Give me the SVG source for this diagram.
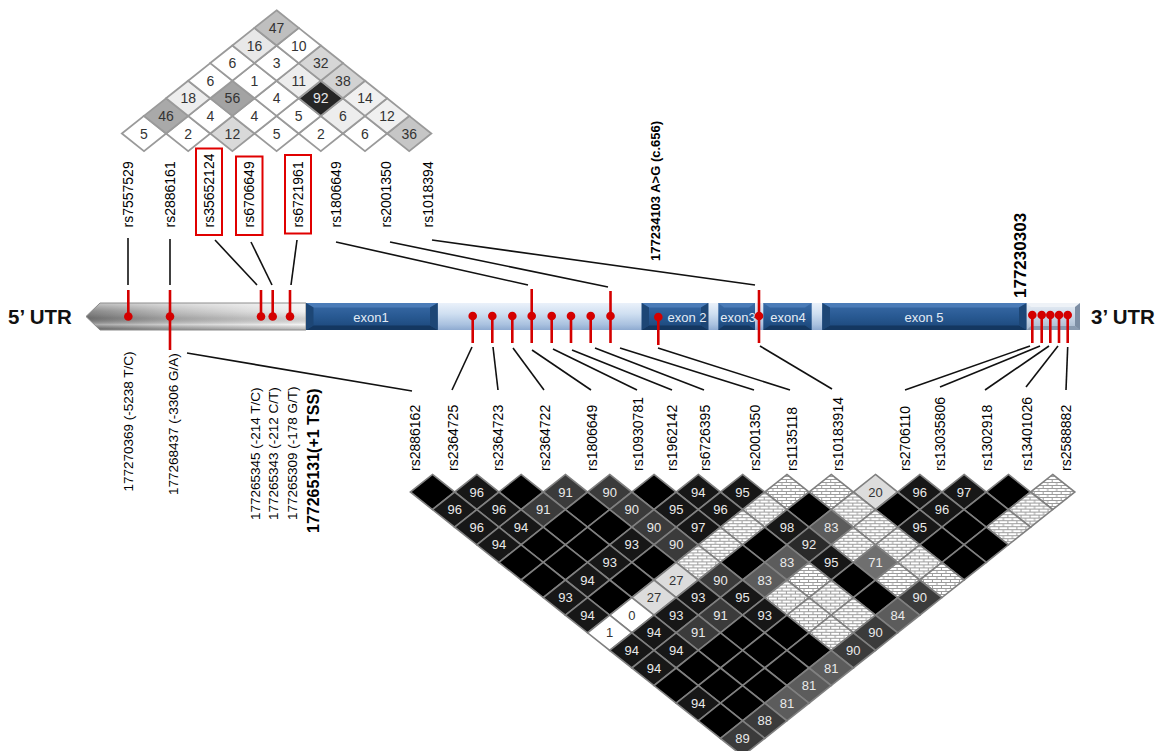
<svg xmlns="http://www.w3.org/2000/svg" xmlns:xlink="http://www.w3.org/1999/xlink" width="1155" height="751" viewBox="0 0 1155 751">
<defs>
<style>
text{font-family:"Liberation Sans",Arial,sans-serif}
.c{stroke:#808080;stroke-width:1.6}
.ct{stroke:#9a9a9a;stroke-width:1.8}
.b{fill:#000}.n1{fill:#171717}.n2{fill:#2a2a2a}.n3{fill:#3b3b3b}.n4{fill:#5c5c5c}.n5{fill:#6f6f6f}.lt{fill:#dcdcdc}.w{fill:#fff}.h{fill:url(#brick)}
.num{font-size:13px;text-anchor:middle}
.tw{fill:#eaeaea}.tk{fill:#333}
.lab{font-size:14px;fill:#000;dominant-baseline:central}
.blk{stroke:#111;stroke-width:1.6;fill:none}
.red{stroke:#d40000;stroke-width:2.6;fill:none}
.dot{fill:#d40000}
.box{fill:none;stroke:#e00000;stroke-width:2}
.ex{font-size:13px;fill:#e3ebf5;text-anchor:middle}
.utr{font-size:20.5px;font-weight:bold;fill:#111}
</style>
<path id="dm" d="M0,-17.6L22.15,0L0,17.6L-22.15,0Z"/>
<pattern id="brick" patternUnits="userSpaceOnUse" width="9" height="6">
<rect width="9" height="6" fill="#9c9c9c"/>
<rect x="0" y="0" width="8" height="2" fill="#fff"/>
<rect x="-4.5" y="3" width="8" height="2" fill="#fff"/>
<rect x="4.5" y="3" width="8" height="2" fill="#fff"/>
</pattern>
<linearGradient id="gUtr5" x1="0" y1="0" x2="1" y2="0">
<stop offset="0" stop-color="#7a7a7a"/><stop offset="0.4" stop-color="#b8b8b8"/><stop offset="1" stop-color="#f0f0f0"/>
</linearGradient>
<linearGradient id="gShade" x1="0" y1="0" x2="0" y2="1">
<stop offset="0" stop-color="#fff" stop-opacity="0.55"/><stop offset="0.3" stop-color="#fff" stop-opacity="0.1"/><stop offset="0.55" stop-color="#000" stop-opacity="0.12"/><stop offset="0.8" stop-color="#fff" stop-opacity="0.35"/><stop offset="1" stop-color="#000" stop-opacity="0.25"/>
</linearGradient>
<linearGradient id="gIntron" x1="0" y1="0" x2="0" y2="1">
<stop offset="0" stop-color="#eaf1fa"/><stop offset="0.4" stop-color="#cfdff1"/><stop offset="0.8" stop-color="#a9c1df"/><stop offset="1" stop-color="#8eaad0"/>
</linearGradient>
<linearGradient id="gExon" x1="0" y1="0" x2="0" y2="1">
<stop offset="0" stop-color="#3a6ba7"/><stop offset="0.5" stop-color="#285992"/><stop offset="1" stop-color="#1b4678"/>
</linearGradient>
<linearGradient id="gUtr3" x1="0" y1="0" x2="0" y2="1">
<stop offset="0" stop-color="#e8eef5"/><stop offset="0.5" stop-color="#c9d6e6"/><stop offset="1" stop-color="#a8b9cd"/>
</linearGradient>
</defs>
<rect width="1155" height="751" fill="#fff"/>

<!-- Top LD triangle -->
<g id="ld-top">
<g class="ct">
<use xlink:href="#dm" x="144" y="133.5" class="w"/>
<use xlink:href="#dm" x="188.2" y="133.5" class="w"/>
<use xlink:href="#dm" x="232.4" y="133.5" fill="#d9d9d9"/>
<use xlink:href="#dm" x="276.6" y="133.5" class="w"/>
<use xlink:href="#dm" x="320.8" y="133.5" class="w"/>
<use xlink:href="#dm" x="365" y="133.5" class="w"/>
<use xlink:href="#dm" x="409.2" y="133.5" fill="#c6c6c6"/>
<use xlink:href="#dm" x="166.1" y="115.9" fill="#a9a9a9"/>
<use xlink:href="#dm" x="210.3" y="115.9" class="w"/>
<use xlink:href="#dm" x="254.5" y="115.9" class="w"/>
<use xlink:href="#dm" x="298.7" y="115.9" class="w"/>
<use xlink:href="#dm" x="342.9" y="115.9" fill="#ededed"/>
<use xlink:href="#dm" x="387.1" y="115.9" fill="#f0f0f0"/>
<use xlink:href="#dm" x="188.2" y="98.3" fill="#ededed"/>
<use xlink:href="#dm" x="232.4" y="98.3" fill="#a3a3a3"/>
<use xlink:href="#dm" x="276.6" y="98.3" class="w"/>
<use xlink:href="#dm" x="320.8" y="98.3" fill="#262626"/>
<use xlink:href="#dm" x="365" y="98.3" fill="#f0f0f0"/>
<use xlink:href="#dm" x="210.3" y="80.7" class="w"/>
<use xlink:href="#dm" x="254.5" y="80.7" class="w"/>
<use xlink:href="#dm" x="298.7" y="80.7" fill="#ededed"/>
<use xlink:href="#dm" x="342.9" y="80.7" fill="#d2d2d2"/>
<use xlink:href="#dm" x="232.4" y="63.1" class="w"/>
<use xlink:href="#dm" x="276.6" y="63.1" class="w"/>
<use xlink:href="#dm" x="320.8" y="63.1" fill="#d6d6d6"/>
<use xlink:href="#dm" x="254.5" y="45.5" fill="#e8e8e8"/>
<use xlink:href="#dm" x="298.7" y="45.5" class="w"/>
<use xlink:href="#dm" x="276.6" y="27.9" fill="#bfbfbf"/>
</g>
<g class="num tk" style="font-size:14px">
<text x="144" y="138.5">5</text><text x="188.2" y="138.5">2</text><text x="232.4" y="138.5">12</text><text x="276.6" y="138.5">5</text><text x="320.8" y="138.5">2</text><text x="365" y="138.5">6</text><text x="409.2" y="138.5">36</text>
<text x="166.1" y="120.9">46</text><text x="210.3" y="120.9">4</text><text x="254.5" y="120.9">4</text><text x="298.7" y="120.9">5</text><text x="342.9" y="120.9">6</text><text x="387.1" y="120.9">12</text>
<text x="188.2" y="103.3">18</text><text x="232.4" y="103.3">56</text><text x="276.6" y="103.3">4</text><text x="320.8" y="103.3" class="tw">92</text><text x="365" y="103.3">14</text>
<text x="210.3" y="85.7">6</text><text x="254.5" y="85.7">1</text><text x="298.7" y="85.7">11</text><text x="342.9" y="85.7">38</text>
<text x="232.4" y="68.1">6</text><text x="276.6" y="68.1">3</text><text x="320.8" y="68.1">32</text>
<text x="254.5" y="50.5">16</text><text x="298.7" y="50.5">10</text>
<text x="276.6" y="32.9">47</text>
</g>
</g>

<!-- Top SNP labels -->
<g id="labels-top" class="lab">
<text transform="translate(128,227.5) rotate(-90)">rs7557529</text>
<text transform="translate(170,227.5) rotate(-90)">rs2886161</text>
<text transform="translate(209,227.5) rotate(-90)">rs35652124</text>
<text transform="translate(249,227.5) rotate(-90)">rs6706649</text>
<text transform="translate(298,227.5) rotate(-90)">rs6721961</text>
<text transform="translate(336,227.5) rotate(-90)">rs1806649</text>
<text transform="translate(386,227.5) rotate(-90)">rs2001350</text>
<text transform="translate(428,227.5) rotate(-90)">rs1018394</text>
<text transform="translate(655,261) rotate(-90)" style="font-size:13px;font-weight:bold">177234103 A&gt;G (c.656)</text>
<text transform="translate(1020,298) rotate(-90)" style="font-size:17px;font-weight:bold">177230303</text>
</g>
<g id="highlight-boxes">
<rect class="box" x="196" y="148.5" width="26" height="86.5"/>
<rect class="box" x="236" y="156.5" width="26.5" height="78.5"/>
<rect class="box" x="285" y="155" width="26" height="78.5"/>
</g>

<!-- Gene structure -->
<g id="gene">
<rect x="437" y="303" width="206" height="27" fill="url(#gIntron)"/>
<rect x="707" y="303" width="13" height="27" fill="url(#gIntron)"/>
<rect x="754" y="303" width="11" height="27" fill="url(#gIntron)"/>
<rect x="810" y="303" width="14" height="27" fill="url(#gIntron)"/>
<g id="utr5">
<polygon points="86,316.5 100,303 306,303 306,330 100,330" fill="url(#gUtr5)"/>
<polygon points="86,316.5 100,303 306,303 306,330 100,330" fill="url(#gShade)"/>
<polygon points="86,316.5 100,303 306,303 306,330 100,330" fill="none" stroke="#8c8c8c" stroke-width="1"/>
</g>
<g id="exon1">
<rect x="306" y="303" width="131.7" height="27" fill="url(#gExon)"/>
<polygon points="306,303 437.7,303 430,307.5 313.5,307.5" fill="#4b7cb8"/>
<polygon points="306,330 437.7,330 430,325.5 313.5,325.5" fill="#143760"/>
<polygon points="306,303 313.5,307.5 313.5,325.5 306,330" fill="#1d4675"/>
<polygon points="437.7,303 430,307.5 430,325.5 437.7,330" fill="#1d4675"/>
<text class="ex" x="371" y="321.5">exon1</text>
</g>
<g id="exon2">
<rect x="641.7" y="303" width="66.6" height="27" fill="url(#gExon)"/>
<polygon points="641.7,303 708.3,303 701,307.5 649,307.5" fill="#4b7cb8"/>
<polygon points="641.7,330 708.3,330 701,325.5 649,325.5" fill="#143760"/>
<polygon points="641.7,303 649,307.5 649,325.5 641.7,330" fill="#1d4675"/>
<polygon points="708.3,303 701,307.5 701,325.5 708.3,330" fill="#1d4675"/>
<text class="ex" x="687" y="321.5">exon 2</text>
</g>
<g id="exon3">
<rect x="718.3" y="303" width="36.7" height="27" fill="url(#gExon)"/>
<polygon points="718.3,303 755,303 749,307.5 724,307.5" fill="#4b7cb8"/>
<polygon points="718.3,330 755,330 749,325.5 724,325.5" fill="#143760"/>
<text class="ex" x="738" y="321.5">exon3</text>
</g>
<g id="exon4">
<rect x="763.3" y="303" width="48.4" height="27" fill="url(#gExon)"/>
<polygon points="763.3,303 811.7,303 805,307.5 770,307.5" fill="#4b7cb8"/>
<polygon points="763.3,330 811.7,330 805,325.5 770,325.5" fill="#143760"/>
<text class="ex" x="788" y="321.5">exon4</text>
</g>
<g id="exon5">
<rect x="822.3" y="303" width="204.4" height="27" fill="url(#gExon)"/>
<polygon points="822.3,303 1026.7,303 1019,307.5 830,307.5" fill="#4b7cb8"/>
<polygon points="822.3,330 1026.7,330 1019,325.5 830,325.5" fill="#143760"/>
<polygon points="822.3,303 830,307.5 830,325.5 822.3,330" fill="#1d4675"/>
<polygon points="1026.7,303 1019,307.5 1019,325.5 1026.7,330" fill="#1d4675"/>
<text class="ex" x="924" y="321.5">exon 5</text>
</g>
<g id="utr3">
<rect x="1026.7" y="303" width="53.3" height="27" fill="url(#gUtr3)"/>
<polygon points="1026.7,303 1080,303 1075,307 1031,307" fill="#eef2f7"/>
<polygon points="1026.7,330 1080,330 1075,326 1031,326" fill="#8a9bb0"/>
<polygon points="1080,303 1075,307 1075,326 1080,330" fill="#7d8ea4"/>
</g>
<text class="utr" x="8" y="324">5’ UTR</text>
<text class="utr" x="1091" y="324">3’ UTR</text>
</g>

<!-- Connectors -->
<g id="connectors">
<g class="blk">
<path d="M128,238V285"/>
<path d="M170,239V285"/>
<path d="M215,240L257,285"/>
<path d="M251,242L272,285"/>
<path d="M297,240L291,285"/>
<path d="M336,242L528,285"/>
<path d="M390,242L608,287"/>
<path d="M432,240L755,285"/>
<path d="M187,353L412,391"/>
<path d="M472,347L452,390"/>
<path d="M493,347L498,390"/>
<path d="M513,348L544,390"/>
<path d="M532,350L591,390"/>
<path d="M553,349L637,390"/>
<path d="M572,350L672,390"/>
<path d="M595,348L704,390"/>
<path d="M620,348L754,390"/>
<path d="M658,348L790,390"/>
<path d="M760,346L832,389"/>
<path d="M1030,346L905,390"/>
<path d="M1040,346L940,387"/>
<path d="M1049,346L985,390"/>
<path d="M1058,346L1026,387"/>
<path d="M1067.7,347L1066,390"/>
</g>
<g class="red">
<path d="M128.3,290V316.5"/>
<path d="M170,290V350"/>
<path d="M261,290V316.5"/>
<path d="M272.7,290V316.5"/>
<path d="M290,290V316.5"/>
<path d="M472.7,316V343"/>
<path d="M492.3,316V343"/>
<path d="M512.3,316V343"/>
<path d="M531.7,289V343"/>
<path d="M551.7,316V343"/>
<path d="M571,316V343"/>
<path d="M590.7,316V343"/>
<path d="M610.5,291V343"/>
<path d="M658.3,317V345"/>
<path d="M759,290V343"/>
<path d="M1032.3,315V343"/>
<path d="M1041.7,315V343"/>
<path d="M1050.3,315V343"/>
<path d="M1059,315V343"/>
<path d="M1067.7,315V343"/>
</g>
<g class="dot">
<circle cx="128.3" cy="316.5" r="4.3"/><circle cx="170" cy="316.5" r="4.3"/><circle cx="261" cy="316.5" r="4.3"/><circle cx="272.7" cy="316.5" r="4.3"/><circle cx="290" cy="316.5" r="4.3"/>
<circle cx="472.7" cy="316" r="4.3"/><circle cx="492.3" cy="316" r="4.3"/><circle cx="512.3" cy="316" r="4.3"/><circle cx="531.7" cy="316" r="4.3"/><circle cx="551.7" cy="316" r="4.3"/><circle cx="571" cy="316" r="4.3"/><circle cx="590.7" cy="316" r="4.3"/><circle cx="610.5" cy="316" r="4.3"/>
<circle cx="658.3" cy="317" r="4.3"/><circle cx="759" cy="316" r="4.3"/>
<circle cx="1032.3" cy="315" r="4.3"/><circle cx="1041.7" cy="315" r="4.3"/><circle cx="1050.3" cy="315" r="4.3"/><circle cx="1059" cy="315" r="4.3"/><circle cx="1067.7" cy="315" r="4.3"/>
</g>
</g>

<!-- Bottom-left position labels -->
<g id="labels-position" class="lab" style="font-size:13.5px">
<text transform="translate(128,491.5) rotate(-90)">177270369 (-5238 T/C)</text>
<text transform="translate(173,495) rotate(-90)">177268437 (-3306 G/A)</text>
<text transform="translate(255,520) rotate(-90)">177265345 (-214 T/C)</text>
<text transform="translate(273.5,520) rotate(-90)">177265343 (-212 C/T)</text>
<text transform="translate(292.5,520) rotate(-90)">177265309 (-178 G/T)</text>
<text transform="translate(313.5,533) rotate(-90)" style="font-size:16px;font-weight:bold">177265131(+1 TSS)</text>
</g>

<!-- Bottom SNP labels -->
<g id="labels-bottom" class="lab">
<text transform="translate(415,471) rotate(-90)">rs2886162</text>
<text transform="translate(453.3,471) rotate(-90)">rs2364725</text>
<text transform="translate(498.3,471) rotate(-90)">rs2364723</text>
<text transform="translate(545,471) rotate(-90)">rs2364722</text>
<text transform="translate(591.7,471) rotate(-90)">rs1806649</text>
<text transform="translate(638.3,471) rotate(-90)">rs10930781</text>
<text transform="translate(671.7,471) rotate(-90)">rs1962142</text>
<text transform="translate(705,471) rotate(-90)">rs6726395</text>
<text transform="translate(755,471) rotate(-90)">rs2001350</text>
<text transform="translate(791.7,471) rotate(-90)">rs1135118</text>
<text transform="translate(838.3,471) rotate(-90)">rs10183914</text>
<text transform="translate(905,471) rotate(-90)">rs2706110</text>
<text transform="translate(940,471) rotate(-90)">rs13035806</text>
<text transform="translate(986.7,471) rotate(-90)">rs1302918</text>
<text transform="translate(1027.3,471) rotate(-90)">rs13401026</text>
<text transform="translate(1066,471) rotate(-90)">rs2588882</text>
</g>

<!-- Bottom LD triangle -->
<g id="ld-bottom">
<g class="c">
<use xlink:href="#dm" x="432.5" y="492" class="b"/><use xlink:href="#dm" x="476.8" y="492" class="n1"/><use xlink:href="#dm" x="521.1" y="492" class="b"/><use xlink:href="#dm" x="565.4" y="492" class="n3"/><use xlink:href="#dm" x="609.7" y="492" class="n3"/><use xlink:href="#dm" x="654" y="492" class="b"/><use xlink:href="#dm" x="698.3" y="492" class="n1"/><use xlink:href="#dm" x="742.6" y="492" class="n1"/><use xlink:href="#dm" x="786.9" y="492" class="h"/><use xlink:href="#dm" x="831.2" y="492" class="h"/><use xlink:href="#dm" x="875.5" y="492" class="lt"/><use xlink:href="#dm" x="919.8" y="492" class="n1"/><use xlink:href="#dm" x="964.1" y="492" class="n1"/><use xlink:href="#dm" x="1008.4" y="492" class="b"/><use xlink:href="#dm" x="1052.7" y="492" class="h"/>
<use xlink:href="#dm" x="454.65" y="509.6" class="n1"/><use xlink:href="#dm" x="498.95" y="509.6" class="n1"/><use xlink:href="#dm" x="543.25" y="509.6" class="n3"/><use xlink:href="#dm" x="587.55" y="509.6" class="b"/><use xlink:href="#dm" x="631.85" y="509.6" class="n3"/><use xlink:href="#dm" x="676.15" y="509.6" class="n1"/><use xlink:href="#dm" x="720.45" y="509.6" class="n1"/><use xlink:href="#dm" x="764.75" y="509.6" class="h"/><use xlink:href="#dm" x="809.05" y="509.6" class="b"/><use xlink:href="#dm" x="853.35" y="509.6" class="h"/><use xlink:href="#dm" x="897.65" y="509.6" class="b"/><use xlink:href="#dm" x="941.95" y="509.6" class="n1"/><use xlink:href="#dm" x="986.25" y="509.6" class="b"/><use xlink:href="#dm" x="1030.55" y="509.6" class="h"/>
<use xlink:href="#dm" x="476.8" y="527.2" class="n1"/><use xlink:href="#dm" x="521.1" y="527.2" class="n1"/><use xlink:href="#dm" x="565.4" y="527.2" class="b"/><use xlink:href="#dm" x="609.7" y="527.2" class="b"/><use xlink:href="#dm" x="654" y="527.2" class="n3"/><use xlink:href="#dm" x="698.3" y="527.2" class="n1"/><use xlink:href="#dm" x="742.6" y="527.2" class="h"/><use xlink:href="#dm" x="786.9" y="527.2" class="n1"/><use xlink:href="#dm" x="831.2" y="527.2" class="n4"/><use xlink:href="#dm" x="875.5" y="527.2" class="h"/><use xlink:href="#dm" x="919.8" y="527.2" class="n1"/><use xlink:href="#dm" x="964.1" y="527.2" class="b"/><use xlink:href="#dm" x="1008.4" y="527.2" class="h"/>
<use xlink:href="#dm" x="498.95" y="544.8" class="n1"/><use xlink:href="#dm" x="543.25" y="544.8" class="b"/><use xlink:href="#dm" x="587.55" y="544.8" class="b"/><use xlink:href="#dm" x="631.85" y="544.8" class="n1"/><use xlink:href="#dm" x="676.15" y="544.8" class="n3"/><use xlink:href="#dm" x="720.45" y="544.8" class="h"/><use xlink:href="#dm" x="764.75" y="544.8" class="b"/><use xlink:href="#dm" x="809.05" y="544.8" class="n2"/><use xlink:href="#dm" x="853.35" y="544.8" class="h"/><use xlink:href="#dm" x="897.65" y="544.8" class="h"/><use xlink:href="#dm" x="941.95" y="544.8" class="b"/><use xlink:href="#dm" x="986.25" y="544.8" class="b"/>
<use xlink:href="#dm" x="521.1" y="562.4" class="b"/><use xlink:href="#dm" x="565.4" y="562.4" class="b"/><use xlink:href="#dm" x="609.7" y="562.4" class="n1"/><use xlink:href="#dm" x="654" y="562.4" class="b"/><use xlink:href="#dm" x="698.3" y="562.4" class="h"/><use xlink:href="#dm" x="742.6" y="562.4" class="b"/><use xlink:href="#dm" x="786.9" y="562.4" class="n4"/><use xlink:href="#dm" x="831.2" y="562.4" class="n1"/><use xlink:href="#dm" x="875.5" y="562.4" class="n5"/><use xlink:href="#dm" x="919.8" y="562.4" class="h"/><use xlink:href="#dm" x="964.1" y="562.4" class="b"/>
<use xlink:href="#dm" x="543.25" y="580" class="b"/><use xlink:href="#dm" x="587.55" y="580" class="n1"/><use xlink:href="#dm" x="631.85" y="580" class="b"/><use xlink:href="#dm" x="676.15" y="580" class="lt"/><use xlink:href="#dm" x="720.45" y="580" class="n3"/><use xlink:href="#dm" x="764.75" y="580" class="n4"/><use xlink:href="#dm" x="809.05" y="580" class="h"/><use xlink:href="#dm" x="853.35" y="580" class="b"/><use xlink:href="#dm" x="897.65" y="580" class="h"/><use xlink:href="#dm" x="941.95" y="580" class="h"/>
<use xlink:href="#dm" x="565.4" y="597.6" class="n1"/><use xlink:href="#dm" x="609.7" y="597.6" class="b"/><use xlink:href="#dm" x="654" y="597.6" class="lt"/><use xlink:href="#dm" x="698.3" y="597.6" class="n1"/><use xlink:href="#dm" x="742.6" y="597.6" class="n1"/><use xlink:href="#dm" x="786.9" y="597.6" class="h"/><use xlink:href="#dm" x="831.2" y="597.6" class="h"/><use xlink:href="#dm" x="875.5" y="597.6" class="b"/><use xlink:href="#dm" x="919.8" y="597.6" class="n3"/>
<use xlink:href="#dm" x="587.55" y="615.2" class="n1"/><use xlink:href="#dm" x="631.85" y="615.2" class="w"/><use xlink:href="#dm" x="676.15" y="615.2" class="n1"/><use xlink:href="#dm" x="720.45" y="615.2" class="n3"/><use xlink:href="#dm" x="764.75" y="615.2" class="n1"/><use xlink:href="#dm" x="809.05" y="615.2" class="h"/><use xlink:href="#dm" x="853.35" y="615.2" class="h"/><use xlink:href="#dm" x="897.65" y="615.2" class="n4"/>
<use xlink:href="#dm" x="609.7" y="632.8" class="w"/><use xlink:href="#dm" x="654" y="632.8" class="n1"/><use xlink:href="#dm" x="698.3" y="632.8" class="n3"/><use xlink:href="#dm" x="742.6" y="632.8" class="b"/><use xlink:href="#dm" x="786.9" y="632.8" class="b"/><use xlink:href="#dm" x="831.2" y="632.8" class="h"/><use xlink:href="#dm" x="875.5" y="632.8" class="n3"/>
<use xlink:href="#dm" x="631.85" y="650.4" class="n1"/><use xlink:href="#dm" x="676.15" y="650.4" class="n1"/><use xlink:href="#dm" x="720.45" y="650.4" class="b"/><use xlink:href="#dm" x="764.75" y="650.4" class="b"/><use xlink:href="#dm" x="809.05" y="650.4" class="b"/><use xlink:href="#dm" x="853.35" y="650.4" class="n3"/>
<use xlink:href="#dm" x="654" y="668" class="n1"/><use xlink:href="#dm" x="698.3" y="668" class="b"/><use xlink:href="#dm" x="742.6" y="668" class="b"/><use xlink:href="#dm" x="786.9" y="668" class="b"/><use xlink:href="#dm" x="831.2" y="668" class="n4"/>
<use xlink:href="#dm" x="676.15" y="685.6" class="b"/><use xlink:href="#dm" x="720.45" y="685.6" class="b"/><use xlink:href="#dm" x="764.75" y="685.6" class="b"/><use xlink:href="#dm" x="809.05" y="685.6" class="n4"/>
<use xlink:href="#dm" x="698.3" y="703.2" class="n1"/><use xlink:href="#dm" x="742.6" y="703.2" class="b"/><use xlink:href="#dm" x="786.9" y="703.2" class="n4"/>
<use xlink:href="#dm" x="720.45" y="720.8" class="b"/><use xlink:href="#dm" x="764.75" y="720.8" class="n3"/>
<use xlink:href="#dm" x="742.6" y="738.4" class="n3"/>
</g>
<g class="num tw">
<text x="476.8" y="496.6">96</text><text x="565.4" y="496.6">91</text><text x="609.7" y="496.6">90</text><text x="698.3" y="496.6">94</text><text x="742.6" y="496.6">95</text><text x="875.5" y="496.6" class="tk">20</text><text x="919.8" y="496.6">96</text><text x="964.1" y="496.6">97</text>
<text x="454.65" y="514.2">96</text><text x="498.95" y="514.2">96</text><text x="543.25" y="514.2">91</text><text x="631.85" y="514.2">90</text><text x="676.15" y="514.2">95</text><text x="720.45" y="514.2">96</text><text x="941.95" y="514.2">96</text>
<text x="476.8" y="531.8">96</text><text x="521.1" y="531.8">94</text><text x="654" y="531.8">90</text><text x="698.3" y="531.8">97</text><text x="786.9" y="531.8">98</text><text x="831.2" y="531.8">83</text><text x="919.8" y="531.8">95</text>
<text x="498.95" y="549.4">94</text><text x="631.85" y="549.4">93</text><text x="676.15" y="549.4">90</text><text x="809.05" y="549.4">92</text>
<text x="609.7" y="567">93</text><text x="786.9" y="567">83</text><text x="831.2" y="567">95</text><text x="875.5" y="567">71</text>
<text x="587.55" y="584.6">94</text><text x="676.15" y="584.6" class="tk">27</text><text x="720.45" y="584.6">90</text><text x="764.75" y="584.6">83</text>
<text x="565.4" y="602.2">93</text><text x="654" y="602.2" class="tk">27</text><text x="698.3" y="602.2">93</text><text x="742.6" y="602.2">95</text><text x="919.8" y="602.2">90</text>
<text x="587.55" y="619.8">94</text><text x="631.85" y="619.8" class="tk">0</text><text x="676.15" y="619.8">93</text><text x="720.45" y="619.8">91</text><text x="764.75" y="619.8">93</text><text x="897.65" y="619.8">84</text>
<text x="609.7" y="637.4" class="tk">1</text><text x="654" y="637.4">94</text><text x="698.3" y="637.4">91</text><text x="875.5" y="637.4">90</text>
<text x="631.85" y="655">94</text><text x="676.15" y="655">94</text><text x="853.35" y="655">90</text>
<text x="654" y="672.6">94</text><text x="831.2" y="672.6">81</text>
<text x="809.05" y="690.2">81</text>
<text x="698.3" y="707.8">94</text><text x="786.9" y="707.8">81</text>
<text x="764.75" y="725.4">88</text>
<text x="742.6" y="743">89</text>
</g>
</g>
</svg>
